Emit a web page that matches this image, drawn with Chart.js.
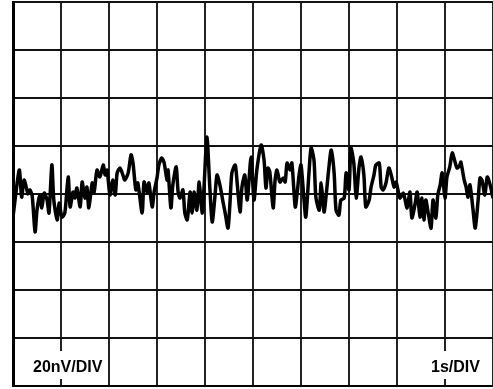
<!DOCTYPE html>
<html>
<head>
<meta charset="utf-8">
<script src="https://cdn.jsdelivr.net/npm/chart.js@4"></script>
<style>
  html, body { margin: 0; padding: 0; background: #fff; }
  canvas { display: block; }
</style>
</head>
<body>
<canvas id="scope" width="493" height="389"></canvas>
<script>
// time in seconds (1s/DIV), noise in nV (20nV/DIV)
const timeS = [
  0.00, 0.13, 0.18, 0.23, 0.29, 0.31, 0.35, 0.40, 0.46, 0.50, 0.56, 0.60, 0.65, 0.71, 0.75, 0.81, 0.85, 0.92, 0.96, 1.02,
  1.08, 1.15, 1.19, 1.25, 1.29, 1.33, 1.40, 1.44, 1.50, 1.54, 1.58, 1.65, 1.69, 1.75, 1.81, 1.88, 1.92, 1.96, 2.02, 2.08,
  2.13, 2.17, 2.23, 2.29, 2.33, 2.40, 2.46, 2.50, 2.56, 2.60, 2.69, 2.73, 2.79, 2.83, 2.90, 2.94, 3.00, 3.04, 3.10, 3.15,
  3.21, 3.23, 3.29, 3.33, 3.40, 3.44, 3.48, 3.54, 3.58, 3.63, 3.69, 3.73, 3.77, 3.83, 3.88, 3.94, 3.98, 4.04, 4.10, 4.15,
  4.21, 4.25, 4.31, 4.38, 4.42, 4.48, 4.52, 4.56, 4.63, 4.67, 4.73, 4.77, 4.83, 4.88, 4.96, 5.02, 5.08, 5.17, 5.23, 5.27,
  5.31, 5.35, 5.42, 5.46, 5.50, 5.56, 5.63, 5.67, 5.71, 5.77, 5.81, 5.88, 5.92, 5.96, 6.00, 6.06, 6.10, 6.17, 6.21, 6.27,
  6.31, 6.38, 6.42, 6.48, 6.52, 6.58, 6.63, 6.69, 6.73, 6.79, 6.83, 6.90, 6.94, 7.00, 7.04, 7.10, 7.15, 7.21, 7.25, 7.31,
  7.35, 7.42, 7.46, 7.52, 7.56, 7.63, 7.67, 7.71, 7.77, 7.83, 7.88, 7.94, 7.98, 8.02, 8.06, 8.13, 8.17, 8.21, 8.27, 8.31,
  8.38, 8.42, 8.48, 8.52, 8.56, 8.60, 8.65, 8.71, 8.75, 8.81, 8.85, 8.90, 8.94, 9.00, 9.04, 9.10, 9.15, 9.21, 9.25, 9.31,
  9.33, 9.40, 9.44, 9.48, 9.52, 9.58, 9.63, 9.69, 9.73, 9.77, 9.83, 9.88, 9.94, 10.00
];
const noiseNV = [
  -9.6, 10.0, -1.3, 5.8, 1.7, 0.0, 1.7, -0.8, -15.8, -6.7, -0.4, -5.8, 0.4, -2.5, -7.9, 12.1, -2.5, -10.8, -3.8, -9.6,
  -7.9, 7.1, -5.4, 0.8, -1.7, 2.5, -5.4, 5.0, -1.7, 2.9, -5.8, 4.6, 0.8, 10.0, 7.1, 12.1, 7.9, 10.0, -0.4, 5.8,
  -0.4, 8.8, 10.8, 7.9, 5.8, 8.8, 16.3, 12.9, 1.7, 4.6, -7.9, 5.0, 0.8, 4.6, -5.4, 0.8, 6.7, 12.1, 15.0, 12.9,
  5.8, 10.0, -5.8, 3.8, 11.3, 0.8, -1.7, 1.7, -7.9, -10.8, 0.8, -7.9, 0.8, -6.7, 5.0, -7.9, 2.9, 23.8, 2.9, -11.7,
  -0.4, 7.9, 3.8, -3.8, -7.9, -14.2, -3.8, 8.8, 12.1, 4.6, -7.5, 2.9, 7.9, -2.5, 15.4, -2.5, 10.0, 20.4, 14.2, 2.5,
  10.8, 9.2, -5.8, 5.8, 10.0, 5.0, 6.7, 5.0, 12.9, 10.0, 12.9, -5.4, 0.4, 7.9, 12.1, -1.7, -9.6, 10.0, 19.2, 14.2,
  -1.3, -6.7, 4.6, -7.5, -1.3, 10.8, 18.3, 8.8, -6.7, -8.8, -2.5, -1.7, 8.8, 1.7, 19.2, 12.9, -1.7, 11.3, 15.4, 7.9,
  -5.4, -2.5, 2.9, 7.9, 12.1, 12.9, 2.9, 1.7, 4.6, 10.8, 7.9, 2.9, 5.0, 1.7, -1.7, 0.4, -2.5, -5.8, 0.8, -10.0,
  -3.8, 0.8, -9.6, -1.7, -10.8, -2.5, -7.9, -14.2, -2.5, -10.0, -0.4, 3.8, 8.8, -1.7, 7.1, 11.3, 17.1, 13.3, 10.8, 12.1,
  13.3, 5.8, 2.9, -1.3, 3.8, -5.8, -14.2, -2.5, 6.7, 5.8, -0.4, 7.1, 3.8, -1.7
];
const vLabel = '20nV/DIV';
const hLabel = '1s/DIV';

const points = timeS.map((t, i) => ({ x: t, y: noiseNV[i] }));

// scale labels sit inside the graticule on a white patch
const scopeLabels = {
  id: 'scopeLabels',
  afterDraw(chart) {
    const ctx = chart.ctx;
    ctx.save();
    ctx.font = 'bold 16px "Liberation Sans", Arial, sans-serif';
    ctx.textBaseline = 'alphabetic';
    const put = (text, x) => {
      const w = ctx.measureText(text).width;
      ctx.fillStyle = '#fff';
      ctx.fillRect(x - 4, 351, w + 8, 28);
      ctx.fillStyle = '#000';
      ctx.fillText(text, x, 372);
    };
    put(vLabel, 33);
    put(hLabel, 431);
    ctx.restore();
  }
};

new Chart(document.getElementById('scope'), {
  type: 'line',
  data: {
    datasets: [{
      data: points,
      borderColor: '#000',
      borderWidth: 3.5,
      pointRadius: 0,
      tension: 0.25,
      fill: false
    }]
  },
  options: {
    responsive: false,
    animation: false,
    devicePixelRatio: 1,
    layout: { padding: { left: 13, top: 2, right: 0, bottom: 3 } },
    plugins: { legend: { display: false }, tooltip: { enabled: false } },
    scales: {
      x: {
        type: 'linear',
        min: 0,
        max: 10,
        ticks: { display: false, stepSize: 1 },
        grid: { color: '#222', lineWidth: 2, drawTicks: false },
        border: { color: '#000', width: 2 }
      },
      y: {
        min: -80,
        max: 80,
        ticks: { display: false, stepSize: 20 },
        grid: { color: '#111', lineWidth: 2, drawTicks: false },
        border: { color: '#000', width: 3 }
      }
    }
  },
  plugins: [scopeLabels]
});
</script>
</body>
</html>
